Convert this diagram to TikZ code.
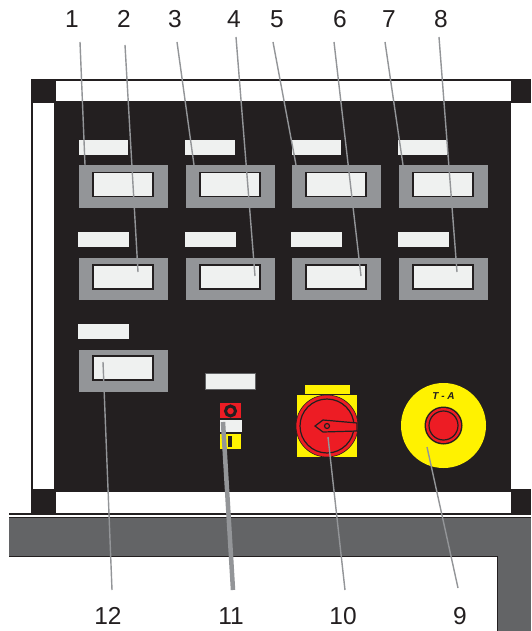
\documentclass[tikz,border=0pt]{standalone}
\usepackage{fontspec}
\setmainfont{Liberation Sans}
\definecolor{panelc}{HTML}{231F20}
\definecolor{platec}{HTML}{939598}
\definecolor{tagc}{HTML}{EFF1F0}
\definecolor{bandc}{HTML}{636466}
\definecolor{leadc}{HTML}{939598}
\definecolor{ylwc}{HTML}{FFF200}
\definecolor{rdc}{HTML}{ED1C24}
\tikzset{
  num/.style={font=\fontsize{24.5}{26}\selectfont,text=panelc,inner sep=0pt,anchor=center},
  tagbox/.style={fill=tagc,draw=none},
  platebox/.style={fill=platec,draw=none},
  windowbox/.style={fill=tagc,draw=panelc,line width=1.5pt},
  leadline/.style={draw=leadc,line width=1.4pt},
}
\begin{document}
\begin{tikzpicture}[x=1pt,y=-1pt]
\useasboundingbox (0,0) rectangle (531,631);
\fill[white] (0,0) rectangle (531,631);
% frame
\fill[panelc] (31,79) rectangle (531,514);
\fill[white] (56,81) rectangle (511,101);
\fill[white] (33,103) rectangle (54,489);
\fill[white] (511,103) rectangle (531,489);
\fill[white] (56,492) rectangle (511,513);
% table
\fill[panelc] (9,513) rectangle (531,514.5);
\fill[white] (9,514.5) rectangle (531,517);
\fill[bandc] (9,517) rectangle (531,556);
\draw[panelc,line width=1pt] (9,517.5) -- (531,517.5) (9,556) -- (531,556);
\fill[bandc] (497,556) rectangle (531,631);
\draw[panelc,line width=0.8pt] (497,556) -- (497,631);
% plates
\foreach \x/\tx/\tw in {79/79/49,186/185/50,292/292/49,399/398/49}{
  \fill[tagbox] (\tx,140) rectangle ++(\tw,15);
  \fill[platebox] (\x,165) rectangle ++(89,43);
  \draw[windowbox] (\x+14,172.5) rectangle ++(60,24);
}
\foreach \x/\tx in {79/78,186/185,292/291,399/398}{
  \fill[tagbox] (\tx,232) rectangle ++(51,15);
  \fill[platebox] (\x,258) rectangle ++(89,42);
  \draw[windowbox] (\x+14,265) rectangle ++(60,24);
}
\fill[tagbox] (78,323.5) rectangle ++(51,15.5);
\fill[platebox] (79,350) rectangle ++(89,42);
\draw[windowbox] (93,356) rectangle ++(60,24);
% selector 11
\filldraw[fill=tagc,draw=bandc,line width=0.6pt] (205,373.5) rectangle (255,389.5);
\fill[rdc] (220,403) rectangle (241,418);
\draw[panelc,line width=3pt] (230.5,411) circle (5);
\fill[ylwc] (220,434) rectangle (241,448.5);
\fill[panelc] (228,436) rectangle (232,447);
\filldraw[fill=tagc,draw=panelc,line width=0.8pt] (219,419) rectangle (242,432.5);
% main switch 10
\filldraw[fill=ylwc,draw=panelc,line width=0.4pt] (304.5,384) rectangle (350,394);
\fill[ylwc] (297,395) rectangle (357,457);
\filldraw[fill=rdc,draw=panelc,line width=0.6pt] (327,426) circle (31);
\draw[panelc,line width=1.2pt] (327,426) circle (27);
\filldraw[fill=rdc,draw=panelc,line width=1.2pt] (315,426) -- (323,420) -- (357,423) -- (357,431) -- (323,432) -- cycle;
\draw[panelc,line width=1.2pt] (327,426) circle (2.5);
% emergency stop 9
\fill[ylwc] (443.5,425.5) circle (42.5);
\fill[panelc] (443.5,425.5) circle (19);
\fill[rdc] (443.5,425.5) circle (17.5);
\draw[panelc,line width=1.2pt] (443.5,425.5) circle (14.5);
\node[inner sep=0pt,font=\bfseries\itshape\fontsize{10}{10}\selectfont,text=panelc] (ta) at (443.5,396) {T - A};
% leaders
\coordinate (a1) at (80,42); \coordinate (b1) at (85,165);
\coordinate (a2) at (125,45); \coordinate (b2) at (138,272);
\coordinate (a3) at (177,42); \coordinate (b3) at (194,165);
\coordinate (a4) at (236,37); \coordinate (b4) at (255,276);
\coordinate (a5) at (273,42); \coordinate (b5) at (296,165);
\coordinate (a6) at (334,42); \coordinate (b6) at (361,276);
\coordinate (a7) at (385,42); \coordinate (b7) at (403,165);
\coordinate (a8) at (439,37); \coordinate (b8) at (457,272);
\coordinate (a9) at (458,588); \coordinate (b9) at (427,447);
\coordinate (a10) at (345,590); \coordinate (b10) at (328,437);
\coordinate (a12) at (112,590); \coordinate (b12) at (103,362);
\foreach \i in {1,2,3,4,5,6,7,8,9,10,12}{ \draw[leadline] (a\i) -- (b\i); }
\coordinate (a11) at (233,590); \coordinate (b11) at (223,422);
\draw[draw=leadc,line width=4.5pt] (a11) -- (b11);
% numbers
\foreach \n/\x/\y in {1/72/19,2/124/19,3/175/19,4/234/19,5/277/19,6/340/19,7/389/19,8/441/19,12/108/616,11/231/616,10/343/616,9/460/616}{
  \node[num] (n\n) at (\x,\y) {\n};
}
\end{tikzpicture}
\end{document}
